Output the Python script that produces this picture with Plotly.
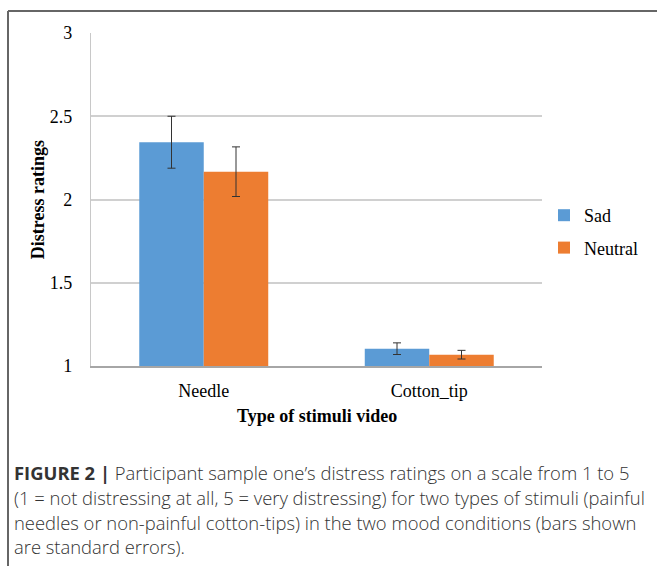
import plotly.graph_objects as go

categories = ["Needle", "Cotton_tip"]
sad_values = [2.344, 1.104]
sad_errors = [0.156, 0.035]
neutral_values = [2.167, 1.068]
neutral_errors = [0.149, 0.026]
series_names = ["Sad", "Neutral"]
y_ticks = [1, 1.5, 2, 2.5, 3]
y_tick_labels = ["1", "1.5", "2", "2.5", "3"]

caption_lines = [
    "<b>FIGURE 2 |</b> Participant sample one\u2019s distress ratings on a scale from 1 to 5",
    "(1 = not distressing at all, 5 = very distressing) for two types of stimuli (painful",
    "needles or non-painful cotton-tips) in the two mood conditions (bars shown",
    "are standard errors).",
]

W, H = 657, 566
L, R, T, B = 91, 115, 33, 200
PW = W - L - R
PH = H - T - B


def px(x):
    return (x - L) / PW


def py(y):
    return (H - B - y) / PH


SERIF = "Liberation Serif"
SANS = "Open Sans"

fig = go.Figure()
fig.add_trace(go.Bar(
    name=series_names[0], x=categories, y=sad_values,
    marker=dict(color="#5B9BD5", line=dict(width=0)),
    error_y=dict(type="data", array=sad_errors, color="#333333", thickness=1, width=4),
    legendgroup="sad",
))
fig.add_trace(go.Bar(
    name=series_names[1], x=categories, y=neutral_values,
    marker=dict(color="#ED7D31", line=dict(width=0)),
    error_y=dict(type="data", array=neutral_errors, color="#333333", thickness=1, width=4),
    legendgroup="neutral",
))

fig.update_layout(
    width=W, height=H,
    margin=dict(l=L, r=R, t=T, b=B, pad=0),
    paper_bgcolor="white", plot_bgcolor="white",
    barmode="group", bargap=0.428, bargroupgap=0,
    font=dict(family=SERIF, size=18, color="black"),
    showlegend=True,
    legend=dict(
        x=px(544), y=py(197), xanchor="left", yanchor="top",
        font=dict(family=SERIF, size=18, color="black"),
        tracegroupgap=6, bgcolor="rgba(0,0,0,0)",
    ),
    xaxis=dict(
        showgrid=False, showline=True, linecolor="#A6A6A6", linewidth=1.5,
        ticks="", ticklabelstandoff=8,
        tickfont=dict(family=SERIF, size=18, color="black"),
    ),
    yaxis=dict(
        range=[1, 3], tickvals=y_ticks, ticktext=y_tick_labels,
        showgrid=True, gridcolor="#D0D0D0", gridwidth=1.5,
        showline=True, linecolor="#C8C8C8", linewidth=1.2,
        zeroline=False, ticks="", ticklabelstandoff=14,
        tickfont=dict(family=SERIF, size=18, color="black"),
    ),
)

annotations = [
    dict(text="<b>Distress ratings</b>", x=px(37.7), y=0.5, xref="paper", yref="paper",
         textangle=-90, showarrow=False, xanchor="center", yanchor="middle",
         font=dict(family=SERIF, size=18, color="black")),
    dict(text="<b>Type of stimuli video</b>", x=0.5, y=py(416), xref="paper", yref="paper",
         showarrow=False, xanchor="center", yanchor="middle",
         font=dict(family=SERIF, size=18, color="black")),
]
caption_y = [472, 497, 522, 546]
for line, yy in zip(caption_lines, caption_y):
    annotations.append(dict(
        text=line, x=px(12), y=py(yy), xref="paper", yref="paper",
        showarrow=False, xanchor="left", yanchor="middle", align="left",
        font=dict(family=SANS, size=18.4, color="#333333", weight=300),
    ))
fig.update_layout(annotations=annotations)

frame_color = "#666666"
fig.add_shape(type="line", xref="paper", yref="paper",
              x0=px(8), x1=px(8), y0=py(H + 2), y1=py(11),
              line=dict(color=frame_color, width=2))
fig.add_shape(type="line", xref="paper", yref="paper",
              x0=px(8), x1=px(W + 2), y0=py(11), y1=py(11),
              line=dict(color=frame_color, width=2))

fig.write_html(
    "out.html",
    config={"displayModeBar": False},
    post_script="document.body.style.margin='0';document.body.style.overflow='hidden';",
)
